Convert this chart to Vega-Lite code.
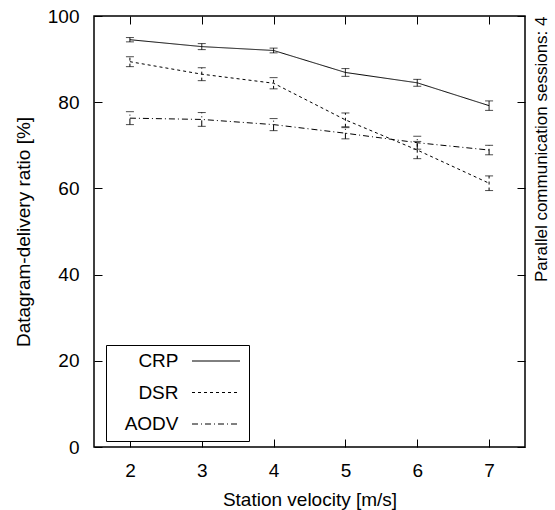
{
  "$schema": "https://vega.github.io/schema/vega-lite/v6.json",
  "width": 431,
  "height": 431,
  "autosize": {"type": "none"},
  "padding": {"left": 94, "top": 16, "right": 30, "bottom": 63},
  "config": {
    "view": {"stroke": "black", "strokeWidth": 1.5},
    "font": "Liberation Sans",
    "axis": {
      "domain": false,
      "grid": false,
      "tickColor": "black",
      "tickWidth": 1,
      "tickSize": 8,
      "labelColor": "black",
      "labelFontSize": 19,
      "labelFont": "Liberation Sans",
      "titleColor": "black",
      "titleFontSize": 19,
      "titleFontWeight": "normal",
      "titleFont": "Liberation Sans"
    }
  },
  "data": {
    "values": [
      {"s": "CRP", "v": 2, "y": 94.5, "lo": 94.0, "hi": 95.0},
      {"s": "CRP", "v": 3, "y": 92.9, "lo": 92.2, "hi": 93.6},
      {"s": "CRP", "v": 4, "y": 92.0, "lo": 91.45, "hi": 92.55},
      {"s": "CRP", "v": 5, "y": 86.9, "lo": 86.0, "hi": 87.8},
      {"s": "CRP", "v": 6, "y": 84.5, "lo": 83.7, "hi": 85.3},
      {"s": "CRP", "v": 7, "y": 79.2, "lo": 78.1, "hi": 80.3},
      {"s": "DSR", "v": 2, "y": 89.4, "lo": 88.25, "hi": 90.55},
      {"s": "DSR", "v": 3, "y": 86.5, "lo": 85.0, "hi": 88.0},
      {"s": "DSR", "v": 4, "y": 84.4, "lo": 83.1, "hi": 85.7},
      {"s": "DSR", "v": 5, "y": 75.9, "lo": 74.3, "hi": 77.5},
      {"s": "DSR", "v": 6, "y": 68.9, "lo": 66.9, "hi": 70.9},
      {"s": "DSR", "v": 7, "y": 61.2, "lo": 59.5, "hi": 62.9},
      {"s": "AODV", "v": 2, "y": 76.3, "lo": 74.8, "hi": 77.8},
      {"s": "AODV", "v": 3, "y": 76.0, "lo": 74.4, "hi": 77.6},
      {"s": "AODV", "v": 4, "y": 74.8, "lo": 73.4, "hi": 76.2},
      {"s": "AODV", "v": 5, "y": 72.8, "lo": 71.5, "hi": 74.1},
      {"s": "AODV", "v": 6, "y": 70.6, "lo": 69.1, "hi": 72.1},
      {"s": "AODV", "v": 7, "y": 68.9, "lo": 67.8, "hi": 70.0}
    ]
  },
  "layer": [
    {
      "mark": {"type": "line", "color": "black", "strokeWidth": 1},
      "encoding": {
        "x": {
          "field": "v", "type": "quantitative",
          "scale": {"domain": [1.5, 7.5], "nice": false, "zero": false},
          "axis": {"orient": "bottom", "values": [2, 3, 4, 5, 6, 7], "ticks": false, "labelPadding": 14, "title": "Station velocity [m/s]", "titlePadding": 10}
        },
        "y": {
          "field": "y", "type": "quantitative",
          "scale": {"domain": [0, 100], "nice": false},
          "axis": {"orient": "left", "values": [0, 20, 40, 60, 80, 100], "ticks": false, "labelPadding": 15, "title": "Datagram-delivery ratio [%]", "titlePadding": 14}
        },
        "strokeDash": {
          "field": "s", "type": "nominal",
          "scale": {"domain": ["CRP", "DSR", "AODV"], "range": [[1, 0], [3, 3], [6, 3, 1, 3]]},
          "legend": {
            "orient": "none", "legendX": 12, "legendY": 329, "title": null,
            "symbolType": "M-3,0H3", "symbolSize": 256, "symbolStrokeWidth": 1, "symbolStrokeColor": "black",
            "rowPadding": 11.5, "padding": 6.5,
            "labelAlign": "right", "labelOffset": -47, "symbolOffset": 94,
            "strokeColor": "black", "fillColor": "white",
            "labelFontSize": 19, "labelFont": "Liberation Sans", "labelColor": "black",
            "labelExpr": "'\u00a0\u00a0' + datum.label"
          }
        }
      }
    },
    {
      "mark": {"type": "rule", "color": "black", "strokeWidth": 1},
      "encoding": {
        "x": {"field": "v", "type": "quantitative", "axis": {"orient": "bottom", "offset": -8, "values": [2, 3, 4, 5, 6, 7], "labels": false, "title": null}},
        "y": {"field": "lo", "type": "quantitative", "axis": {"orient": "left", "offset": -8, "values": [0, 20, 40, 60, 80, 100], "labels": false, "title": null}},
        "y2": {"field": "hi"},
        "strokeDash": {"field": "s", "type": "nominal", "legend": null}
      }
    },
    {
      "mark": {"type": "tick", "color": "black", "orient": "horizontal", "size": 8, "thickness": 1},
      "encoding": {
        "x": {"field": "v", "type": "quantitative", "axis": {"orient": "top", "offset": -8, "values": [2, 3, 4, 5, 6, 7], "labels": false, "title": null}},
        "y": {"field": "lo", "type": "quantitative", "axis": {"orient": "right", "offset": -8, "values": [0, 20, 40, 60, 80, 100], "labels": false, "title": null}}
      }
    },
    {
      "mark": {"type": "tick", "color": "black", "orient": "horizontal", "size": 8, "thickness": 1},
      "encoding": {
        "x": {"field": "v", "type": "quantitative", "axis": null},
        "y": {"field": "hi", "type": "quantitative", "axis": {"orient": "right", "labels": false, "ticks": false, "title": "Parallel communication sessions: 4", "titleAngle": 270, "titleAnchor": "end", "titleAlign": "right", "titleBaseline": "top", "titlePadding": 8, "titleFontSize": 17}}
      }
    }
  ],
  "resolve": {"axis": {"x": "independent", "y": "independent"}}
}
